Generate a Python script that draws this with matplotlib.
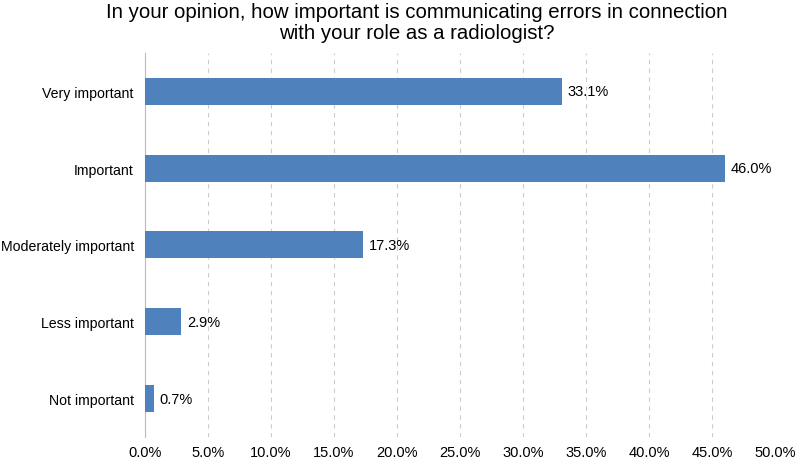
import matplotlib
matplotlib.use("Agg")
import matplotlib.pyplot as plt
from matplotlib.ticker import FuncFormatter

categories = ["Very important", "Important", "Moderately important", "Less important", "Not important"]
values = [33.1, 46.0, 17.3, 2.9, 0.7]
xticks = [0, 5, 10, 15, 20, 25, 30, 35, 40, 45, 50]

plt.rcParams['font.family'] = ['Liberation Sans', 'DejaVu Sans']

fig = plt.figure(figsize=(7.96, 4.64), dpi=100)
ax = fig.add_axes([0.182, 0.056, 0.792, 0.828])

y = list(range(len(categories)))
ax.barh(y, values, height=0.35, color="#4F81BD", zorder=3)
for yi, v in zip(y, values):
    ax.text(v + 0.45, yi, f"{v:.1f}%", va="center", ha="left", fontsize=10.5)

ax.set_yticks(y)
ax.set_yticklabels(categories, fontsize=10.2)
ax.set_ylim(len(categories) - 0.5, -0.5)
ax.set_xlim(0, 50)
ax.set_xticks(xticks)
ax.xaxis.set_major_formatter(FuncFormatter(lambda v, p: f"{v:.1f}%"))
ax.tick_params(axis="x", labelsize=10.5, length=0, pad=6)
ax.tick_params(axis="y", length=0, pad=8)
ax.grid(axis="x", linestyle=(0, (4, 4)), color="#CCCCCC", linewidth=0.8, zorder=0)
for s in ["top", "right", "bottom"]:
    ax.spines[s].set_visible(False)
ax.spines["left"].set_color("#BBBBBB")

fig.suptitle("In your opinion, how important is communicating errors in connection\nwith your role as a radiologist?",
             fontsize=14.7, y=0.993, va="top", x=0.524, linespacing=1.15)

fig.savefig("out.png", dpi=100)
